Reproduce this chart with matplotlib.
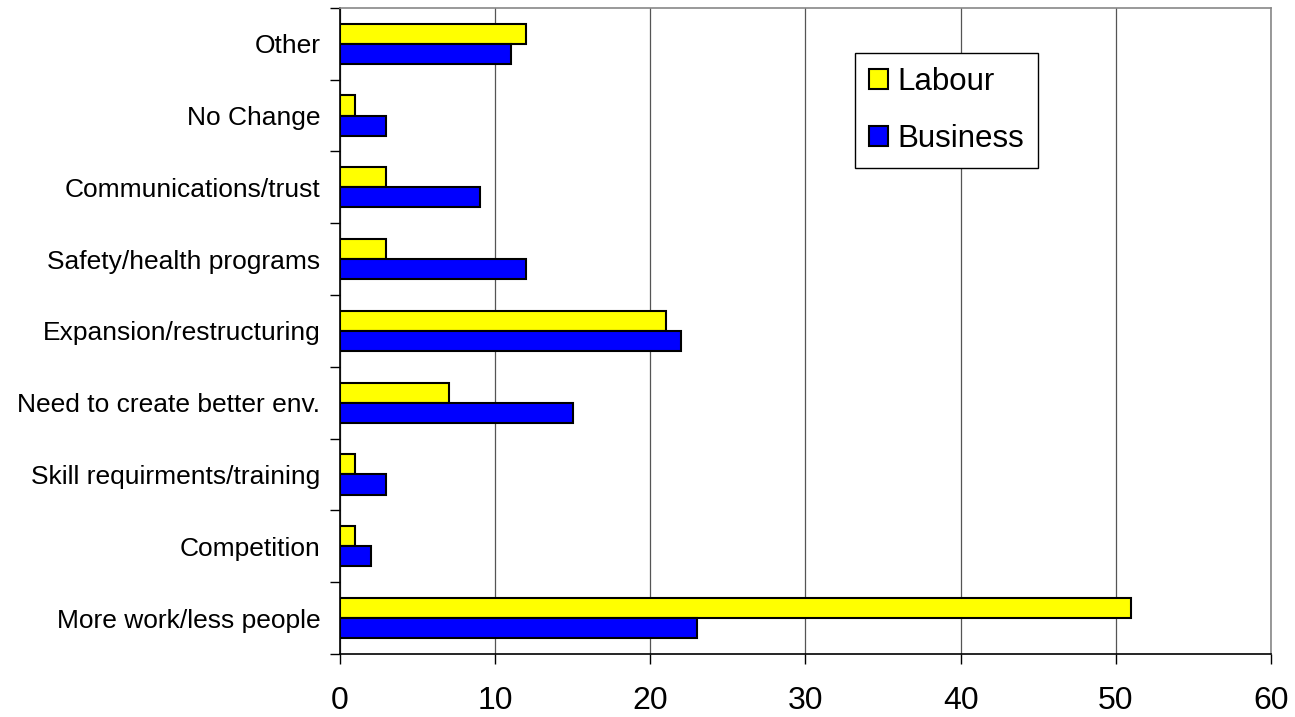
import matplotlib.pyplot as plt
import numpy as np

categories = ['More work/less people', 'Competition', 'Skill requirments/training',
              'Need to create better env.', 'Expansion/restructuring',
              'Safety/health programs', 'Communications/trust', 'No Change', 'Other']
labour = [51, 1, 1, 7, 21, 3, 3, 1, 12]
business = [23, 2, 3, 15, 22, 12, 9, 3, 11]
xticks = [0, 10, 20, 30, 40, 50, 60]

plt.rcParams['font.family'] = ['Liberation Sans', 'DejaVu Sans']

fig = plt.figure(figsize=(12.95, 7.17), dpi=100)
ax = fig.add_axes([0.2625, 0.088, 0.719, 0.901])

y = np.arange(len(categories))
h = 0.28
ax.barh(y + h / 2, labour, height=h, color='#ffff00', edgecolor='black', linewidth=1.5, label='Labour', zorder=3)
ax.barh(y - h / 2, business, height=h, color='#0000ff', edgecolor='black', linewidth=1.5, label='Business', zorder=3)

ax.set_xlim(0, 60)
ax.set_ylim(-0.5, len(categories) - 0.5)
ax.set_xticks(xticks)
ax.set_xticklabels([str(v) for v in xticks], fontsize=23)
ax.tick_params(axis='x', length=7, width=1, pad=16, direction='out')

ax.set_yticks(y)
ax.set_yticklabels(categories, fontsize=19)
ax.tick_params(axis='y', which='major', length=0, pad=14)
ax.set_yticks(np.arange(-0.5, len(categories)), minor=True)
ax.tick_params(axis='y', which='minor', length=7, width=1, direction='out')

ax.grid(axis='x', color='#555555', linewidth=0.9, zorder=0)
for side in ['top', 'right']:
    ax.spines[side].set_color('#888888')
    ax.spines[side].set_linewidth(1.2)
for side in ['left', 'bottom']:
    ax.spines[side].set_color('black')
    ax.spines[side].set_linewidth(1.2)

leg = ax.legend(loc='upper left', bbox_to_anchor=(0.553, 0.93), fontsize=22.5,
                frameon=True, fancybox=False, edgecolor='black', framealpha=1,
                handlelength=0.62, handleheight=0.62, handletextpad=0.3,
                labelspacing=0.85, borderpad=0.45, borderaxespad=0)
leg.get_frame().set_linewidth(1.0)

fig.savefig('out.png', dpi=100)
